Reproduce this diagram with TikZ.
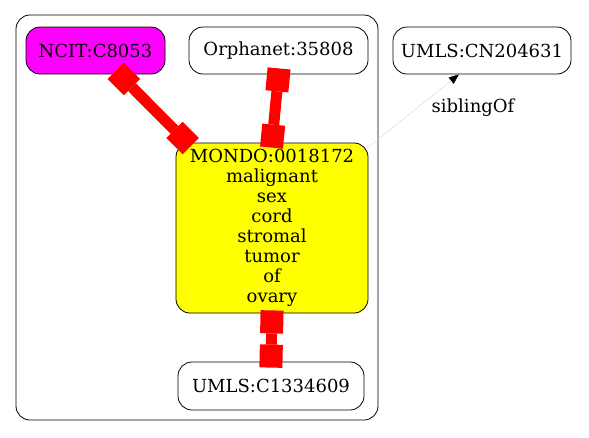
\documentclass[tikz,border=0pt]{standalone}
\usepackage{fontspec}
\setmainfont{DejaVu Serif}
\usetikzlibrary{arrows.meta}
\definecolor{gvmagenta}{RGB}{255,0,255}
\definecolor{gvyellow}{RGB}{255,255,0}
\definecolor{gvred}{RGB}{255,0,0}
\definecolor{gvgray}{RGB}{215,215,215}
\begin{document}
\begin{tikzpicture}[x=1pt,y=-1pt,
  box/.style={draw=black, line width=0.8pt, rounded corners=14pt, inner sep=0pt,
    font=\fontsize{18}{20}\selectfont, align=center},
  redlink/.style={draw=gvred, line width=11pt,
    {Square[length=23pt,width=23pt,line width=0pt]}-{Square[length=23pt,width=23pt,line width=0pt]}},
  lbl/.style={font=\fontsize{18}{20}\selectfont, inner sep=0pt}
]
\useasboundingbox (0,0) rectangle (589,437);
\node (cluster) [draw=black, line width=0.8pt, rounded corners=14pt, minimum width=362pt, minimum height=405pt, inner sep=0pt] at (197,217.5) {};
\node (ncit) [box, fill=gvmagenta, minimum width=139pt, minimum height=47pt] at (95.5,50.5) {NCIT:C8053};
\node (orph) [box, fill=white, minimum width=179pt, minimum height=47pt] at (278.5,50.5) {Orphanet:35808};
\node (cn) [box, fill=white, minimum width=178pt, minimum height=47pt] at (482,50.5) {UMLS:CN204631};
\node (mondo) [box, fill=gvyellow, minimum width=192pt, minimum height=170pt] at (272,228) {MONDO:0018172\\malignant\\sex\\cord\\stromal\\tumor\\of\\ovary};
\node (umls) [box, fill=white, minimum width=186pt, minimum height=48pt] at (271,386) {UMLS:C1334609};
\draw[redlink, shorten <=-5pt, shorten >=-5pt] (ncit) -- (mondo);
\draw[redlink, shorten <=-6pt, shorten >=-5pt] (orph.south) -- (mondo.north);
\draw[redlink, shorten <=-3pt, shorten >=-6pt] (mondo.south) -- (umls.north);
\draw[gvgray, line width=0.4pt, -{Triangle[length=10pt,width=8pt,color=black,fill=black]}] (mondo.40) -- (cn.226);
\node (sib) [lbl] at (473,108) {siblingOf};
\end{tikzpicture}
\end{document}
